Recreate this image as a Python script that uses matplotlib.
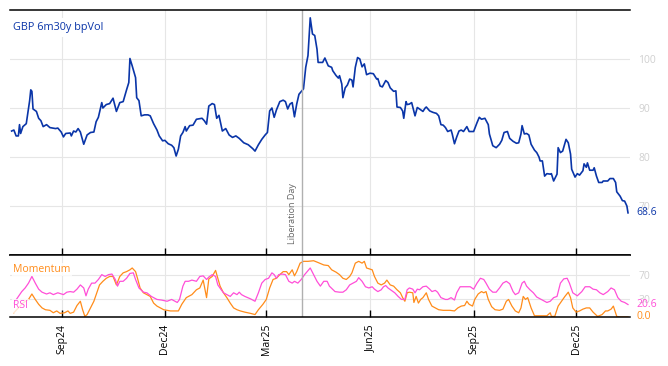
import numpy as np
import pandas as pd
import matplotlib
matplotlib.use("Agg")
import matplotlib.pyplot as plt
import matplotlib.dates as mdates

plt.rcParams['font.family'] = ['Open Sans', 'DejaVu Sans']

start = pd.Timestamp("2024-07-17")
lib_day = pd.Timestamp("2025-04-02")

# GBP 6m30y bpVol (days since start, value)
vol_days = [1, 3, 5, 7, 8, 9, 11, 14, 17, 18, 19, 20, 23, 25, 27, 29, 32, 35, 40, 42,
            45, 47, 49, 53, 54, 56, 58, 60, 62, 65, 68, 71, 74, 76, 78, 81, 82, 85, 88, 91,
            94, 97, 100, 103, 105, 106, 108, 111, 112, 114, 116, 119, 122, 124, 127, 130, 132, 135, 137, 140,
            143, 145, 147, 149, 151, 153, 155, 156, 159, 162, 165, 170, 172, 174, 176, 179, 181, 183, 185, 188,
            191, 194, 197, 200, 203, 207, 211, 215, 217, 220, 223, 226, 228, 230, 232, 234, 236, 239, 242, 244,
            246, 248, 250, 252, 254, 256, 260, 262, 264, 266, 268, 270, 272, 273, 277, 279, 282, 285, 286, 289,
            291, 292, 294, 295, 297, 299, 301, 303, 304, 306, 308, 310, 312, 314, 316, 319, 322, 325, 326, 328,
            330, 333, 335, 337, 340, 342, 343, 346, 348, 349, 351, 352, 354, 356, 357, 359, 361, 363, 366, 368,
            369, 372, 375, 378, 380, 382, 384, 386, 388, 391, 392, 394, 396, 398, 400, 402, 405, 407, 411, 414,
            416, 418, 421, 424, 425, 428, 431, 434, 436, 438, 441, 443, 446, 449, 451, 453, 454, 456, 458, 460,
            462, 465, 467, 469, 470, 472, 474, 476, 479, 480, 482, 485, 486, 488, 490, 493, 495, 497, 498, 501,
            503, 505, 508, 509, 511, 512, 514, 517, 518, 520, 522, 525, 526, 530, 532, 535, 537, 538, 541, 543,
            545, 547, 548]
vol = [85.3, 85.5, 84.3, 84.3, 86.6, 84.8, 86.2, 86.8, 91.5, 93.7, 93.4, 89.8, 89.3, 87.9, 87.4, 86.2, 86.6, 86.0, 85.8, 85.9,
       85.1, 84.1, 84.8, 84.9, 84.3, 85.3, 85.1, 85.8, 85.1, 82.6, 84.5, 85.0, 85.1, 87.2, 88.1, 91.1, 90.0, 90.7, 90.9, 92.0,
       89.3, 91.1, 91.3, 93.7, 95.2, 100.1, 98.6, 96.2, 92.1, 91.5, 88.4, 88.6, 88.6, 88.4, 86.8, 85.5, 84.3, 83.3, 83.4, 82.7,
       82.4, 81.9, 80.2, 81.6, 84.3, 85.0, 86.2, 85.3, 86.4, 86.5, 87.7, 87.9, 87.4, 86.7, 90.4, 90.9, 90.7, 87.9, 88.5, 85.3,
       85.8, 84.5, 84.0, 84.3, 83.8, 82.9, 82.5, 81.7, 81.2, 82.5, 83.6, 84.5, 85.0, 89.4, 90.0, 88.1, 89.6, 91.3, 91.6, 91.3,
       89.8, 90.8, 91.1, 88.2, 90.8, 92.8, 93.9, 98.3, 100.7, 108.4, 105.1, 104.8, 102.0, 99.3, 99.3, 100.2, 98.6, 98.3, 97.6, 96.6,
       96.1, 96.6, 94.9, 92.1, 94.1, 94.7, 95.9, 95.7, 94.3, 98.3, 100.3, 100.0, 98.4, 99.0, 96.8, 97.1, 97.0, 95.9, 96.0, 94.5,
       94.3, 95.6, 95.2, 94.1, 93.4, 93.5, 90.2, 90.1, 89.4, 87.9, 91.3, 90.7, 90.8, 91.1, 90.2, 88.4, 90.1, 89.8, 89.3, 90.0,
       90.2, 89.4, 89.1, 88.9, 88.4, 86.6, 86.5, 86.0, 85.2, 85.5, 84.7, 82.7, 84.1, 85.3, 85.5, 85.2, 86.2, 85.2, 85.2, 87.0,
       88.1, 87.7, 87.9, 86.6, 84.7, 82.3, 81.9, 82.6, 83.4, 85.0, 85.2, 83.8, 83.2, 82.8, 82.9, 84.7, 86.4, 84.7, 84.8, 84.5,
       82.6, 81.4, 80.9, 80.0, 79.2, 79.2, 76.1, 76.6, 76.5, 76.6, 75.1, 76.5, 81.9, 80.9, 81.2, 83.6, 82.9, 80.6, 77.5, 75.9,
       76.6, 76.3, 77.2, 78.6, 77.9, 78.8, 77.3, 77.3, 77.8, 76.1, 74.8, 74.8, 75.1, 75.1, 75.6, 75.6, 74.8, 72.9, 72.0, 71.1,
       71.0, 70.0, 68.6]

rsi_days = [3, 7, 10, 13, 16, 19, 22, 25, 28, 32, 35, 38, 42, 47, 50, 53, 56, 59, 62, 65,
            67, 69, 72, 75, 78, 81, 84, 87, 90, 93, 95, 97, 100, 103, 106, 109, 111, 114, 118, 121,
            125, 130, 134, 139, 143, 148, 150, 153, 155, 158, 161, 165, 168, 171, 174, 176, 179, 182, 184, 187,
            189, 192, 195, 198, 201, 203, 205, 208, 213, 217, 220, 223, 226, 229, 232, 234, 236, 238, 241, 244,
            247, 250, 252, 255, 258, 261, 266, 269, 272, 275, 278, 281, 283, 288, 292, 295, 298, 301, 304, 307,
            309, 312, 315, 318, 321, 323, 326, 329, 331, 333, 335, 338, 341, 344, 347, 350, 352, 354, 357, 359,
            361, 363, 366, 369, 372, 374, 377, 379, 382, 386, 388, 391, 394, 396, 399, 402, 405, 408, 411, 414,
            417, 420, 422, 425, 428, 431, 434, 437, 440, 443, 446, 448, 451, 454, 456, 458, 461, 464, 467, 471,
            476, 479, 482, 485, 488, 491, 494, 496, 499, 503, 507, 510, 514, 517, 520, 523, 526, 530, 533, 536,
            539, 542, 545, 548]
rsi = [23, 34, 42, 48, 56, 67, 56, 46, 41, 38, 40, 37, 40, 37, 41, 42, 41, 46, 53, 48,
       35, 46, 56, 56, 62, 70, 67, 70, 71, 62, 51, 59, 59, 64, 72, 73, 62, 48, 41, 40,
       34, 29, 28, 26, 29, 24, 29, 51, 59, 59, 61, 59, 67, 68, 62, 66, 70, 67, 53, 45,
       40, 37, 34, 40, 37, 41, 37, 34, 30, 26, 40, 56, 62, 64, 73, 70, 64, 70, 71, 70,
       59, 56, 59, 56, 62, 70, 81, 70, 59, 51, 59, 59, 51, 42, 41, 41, 45, 53, 56, 59,
       65, 59, 50, 48, 50, 46, 42, 45, 50, 52, 48, 44, 40, 34, 29, 29, 45, 48, 46, 40,
       46, 45, 50, 51, 46, 42, 44, 41, 32, 29, 29, 32, 28, 40, 50, 50, 50, 50, 46, 56,
       64, 62, 56, 46, 41, 41, 48, 56, 59, 55, 42, 37, 40, 56, 59, 51, 45, 40, 33, 29,
       24, 26, 32, 34, 56, 63, 64, 56, 40, 35, 42, 50, 50, 46, 45, 40, 37, 42, 48, 45,
       32, 26, 24, 20.6]

mom_days = [3, 7, 11, 16, 19, 22, 25, 28, 31, 35, 38, 41, 44, 48, 51, 53, 56, 59, 62, 64,
            66, 68, 71, 74, 77, 79, 82, 85, 88, 91, 94, 97, 100, 103, 106, 108, 111, 113, 115, 118,
            121, 124, 127, 130, 133, 136, 139, 142, 146, 149, 152, 156, 161, 165, 168, 171, 174, 176, 179, 182,
            184, 186, 189, 192, 195, 198, 201, 204, 208, 213, 217, 220, 224, 227, 230, 233, 236, 239, 242, 245,
            247, 250, 252, 254, 257, 260, 264, 269, 273, 278, 282, 285, 289, 292, 295, 298, 301, 303, 306, 309,
            312, 314, 316, 321, 323, 326, 329, 332, 334, 337, 340, 343, 346, 348, 350, 352, 354, 357, 358, 360,
            362, 364, 366, 369, 371, 374, 377, 380, 384, 390, 394, 397, 400, 403, 405, 407, 410, 412, 415, 418,
            420, 422, 424, 427, 430, 434, 437, 440, 442, 445, 448, 451, 453, 455, 457, 459, 462, 465, 470, 476,
            479, 480, 483, 486, 489, 492, 495, 497, 499, 502, 505, 508, 511, 514, 517, 521, 525, 528, 530, 533,
            535, 538, 541, 548]
mom = [7, 15, 23, 29, 38, 29, 21, 15, 12, 11, 7, 10, 6, 7, 10, 6, 8, 19, 26, 12,
       1, 4, 15, 26, 42, 53, 59, 64, 67, 67, 53, 67, 73, 75, 78, 81, 75, 62, 48, 40,
       37, 34, 23, 18, 15, 12, 11, 10, 10, 10, 21, 32, 37, 45, 48, 61, 32, 63, 67, 77,
       64, 51, 40, 32, 23, 15, 12, 10, 8, 6, 4, 12, 21, 29, 48, 62, 64, 70, 75, 75,
       70, 78, 68, 75, 89, 92, 92, 93, 90, 86, 85, 78, 74, 70, 64, 62, 67, 73, 89, 92,
       89, 92, 81, 78, 67, 56, 53, 56, 61, 53, 51, 45, 40, 32, 26, 40, 41, 40, 24, 34,
       23, 29, 32, 40, 29, 18, 15, 12, 11, 11, 10, 15, 18, 19, 26, 21, 18, 29, 38, 42,
       40, 42, 29, 17, 12, 11, 13, 26, 29, 18, 10, 7, 15, 34, 29, 32, 15, 2, 2, 2,
       7, 1, 1, 18, 26, 34, 41, 32, 15, 8, 10, 13, 15, 15, 8, 1, 4, 10, 10, 13,
       18, 1, 0, 0]

vol_dates = start + pd.to_timedelta(vol_days, unit="D")
rsi_dates = start + pd.to_timedelta(rsi_days, unit="D")
mom_dates = start + pd.to_timedelta(mom_days, unit="D")

blue = "#0a35a8"
orange = "#ff8c1a"
magenta = "#ff4fd8"
tick_grey = "#d0d0d0"
grid_grey = "#e6e6e6"

fig = plt.figure(figsize=(6.68, 3.66), dpi=100)
ax = fig.add_axes([0.015, 0.3033, 0.928, 0.6694])
ax2 = fig.add_axes([0.015, 0.1339, 0.928, 0.1686], sharex=ax)

xmin = start - pd.Timedelta(hours=10)
xmax = start + pd.Timedelta(days=549.7)

ax.plot(vol_dates, vol, color=blue, lw=1.2)
ax.set_ylim(60, 110)
ax.set_yticks([70, 80, 90, 100])

ax2.plot(mom_dates, mom, color=orange, lw=0.9)
ax2.plot(rsi_dates, rsi, color=magenta, lw=0.9)
ax2.set_ylim(0, 102)
ax2.set_yticks([30, 70])

for a in (ax, ax2):
    a.set_xlim(xmin, xmax)
    a.xaxis.set_major_locator(mdates.MonthLocator(bymonth=[3, 6, 9, 12]))
    a.xaxis.set_major_formatter(mdates.DateFormatter("%b%y"))
    a.grid(True, color=grid_grey, lw=0.8)
    a.set_axisbelow(True)
    a.spines["left"].set_visible(False)
    a.spines["right"].set_visible(False)
    a.spines["top"].set_linewidth(1.1)
    a.spines["bottom"].set_linewidth(1.1)
    a.yaxis.tick_right()
    a.tick_params(axis="y", length=0, pad=6, labelsize=7.5, labelcolor=tick_grey)
    a.tick_params(axis="x", direction="in", length=5, width=1, color="black")
    a.axvline(lib_day, color="#b0b0b0", lw=1)

ax.tick_params(axis="x", labelbottom=False)
ax2.tick_params(axis="x", labelsize=7.5, pad=5)
plt.setp(ax2.get_xticklabels(), rotation=90, ha="center")

ax.text(0.005, 0.93, "GBP 6m30y bpVol", transform=ax.transAxes, color=blue,
        fontsize=7.8, ha="left", va="center",
        bbox=dict(facecolor="white", edgecolor="none", pad=3))
ax.annotate("Liberation Day", xy=(lib_day, 0.045), xycoords=("data", "axes fraction"),
            xytext=(-4, 0), textcoords="offset points", rotation=90,
            ha="right", va="bottom", fontsize=6.5, color="#666666")
ax.annotate(f"{vol[-1]:.1f}", xy=(1, vol[-1]), xycoords=("axes fraction", "data"),
            xytext=(5, 0), textcoords="offset points", va="center", ha="left",
            fontsize=7.5, color=blue)

ax2.text(0.005, 0.77, "Momentum", transform=ax2.transAxes, color=orange,
         fontsize=7.5, ha="left", va="center",
         bbox=dict(facecolor="white", edgecolor="none", alpha=0.8, pad=1))
ax2.text(0.005, 0.18, "RSI", transform=ax2.transAxes, color=magenta,
         fontsize=7.5, ha="left", va="center",
         bbox=dict(facecolor="white", edgecolor="none", alpha=0.8, pad=1))
ax2.annotate(f"{rsi[-1]:.1f}", xy=(1, rsi[-1]), xycoords=("axes fraction", "data"),
             xytext=(5, 0), textcoords="offset points", va="center", ha="left",
             fontsize=7.5, color=magenta)
ax2.annotate(f"{mom[-1]:.1f}", xy=(1, mom[-1]), xycoords=("axes fraction", "data"),
             xytext=(5, 0), textcoords="offset points", va="center", ha="left",
             fontsize=7.5, color=orange)

fig.savefig("out.png", dpi=100)
